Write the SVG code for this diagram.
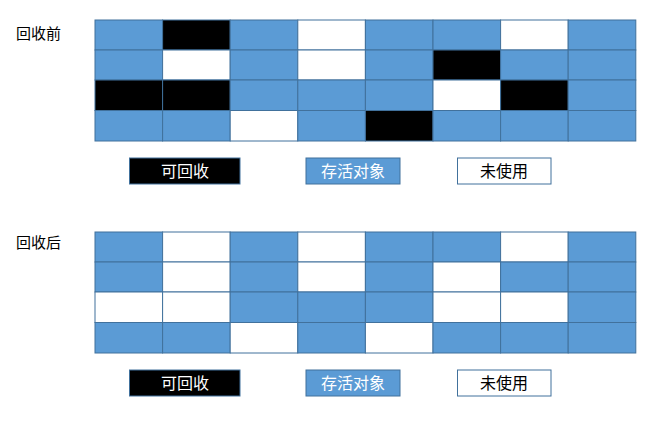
<svg xmlns="http://www.w3.org/2000/svg" width="666" height="434" viewBox="0 0 666 434">
<style>
rect{stroke:#41719C;stroke-width:1}
.b{fill:#5B9BD5}
.k{fill:#000000}
.w{fill:#FFFFFF}
text{font-family:"Noto Sans CJK SC","Microsoft YaHei",sans-serif}
.lbl{font-size:15px;fill:#000}
.lg{font-size:16px;text-anchor:middle}
</style>
<rect x="0" y="0" width="666" height="434" fill="#fff" style="stroke:none"/>
<g id="label-before"><text class="lbl" x="16" y="39">回收前</text></g>
<g id="grid-before">
<rect class="b" x="95" y="20" width="67.6" height="30"/>
<rect class="k" x="162.6" y="20" width="67.6" height="30"/>
<rect class="b" x="230.2" y="20" width="67.6" height="30"/>
<rect class="w" x="297.8" y="20" width="67.6" height="30"/>
<rect class="b" x="365.4" y="20" width="67.6" height="30"/>
<rect class="b" x="433" y="20" width="67.6" height="30"/>
<rect class="w" x="500.6" y="20" width="67.6" height="30"/>
<rect class="b" x="568.2" y="20" width="67.6" height="30"/>

<rect class="b" x="95" y="50" width="67.6" height="30"/>
<rect class="w" x="162.6" y="50" width="67.6" height="30"/>
<rect class="b" x="230.2" y="50" width="67.6" height="30"/>
<rect class="w" x="297.8" y="50" width="67.6" height="30"/>
<rect class="b" x="365.4" y="50" width="67.6" height="30"/>
<rect class="k" x="433" y="50" width="67.6" height="30"/>
<rect class="b" x="500.6" y="50" width="67.6" height="30"/>
<rect class="b" x="568.2" y="50" width="67.6" height="30"/>

<rect class="k" x="95" y="80" width="67.6" height="30.5"/>
<rect class="k" x="162.6" y="80" width="67.6" height="30.5"/>
<rect class="b" x="230.2" y="80" width="67.6" height="30.5"/>
<rect class="b" x="297.8" y="80" width="67.6" height="30.5"/>
<rect class="b" x="365.4" y="80" width="67.6" height="30.5"/>
<rect class="w" x="433" y="80" width="67.6" height="30.5"/>
<rect class="k" x="500.6" y="80" width="67.6" height="30.5"/>
<rect class="b" x="568.2" y="80" width="67.6" height="30.5"/>

<rect class="b" x="95" y="110.5" width="67.6" height="30.5"/>
<rect class="b" x="162.6" y="110.5" width="67.6" height="30.5"/>
<rect class="w" x="230.2" y="110.5" width="67.6" height="30.5"/>
<rect class="b" x="297.8" y="110.5" width="67.6" height="30.5"/>
<rect class="k" x="365.4" y="110.5" width="67.6" height="30.5"/>
<rect class="b" x="433" y="110.5" width="67.6" height="30.5"/>
<rect class="b" x="500.6" y="110.5" width="67.6" height="30.5"/>
<rect class="b" x="568.2" y="110.5" width="67.6" height="30.5"/>
</g>
<g id="legend-before">
<g id="lg1-reclaim"><rect class="k" x="129.5" y="158" width="110.5" height="26"/><text class="lg" x="185" y="177" fill="#fff">可回收</text></g>
<g id="lg1-alive"><rect class="b" x="306" y="158" width="94" height="26"/><text class="lg" x="353" y="177" fill="#fff">存活对象</text></g>
<g id="lg1-unused"><rect class="w" x="457.5" y="158" width="93.5" height="26"/><text class="lg" x="504" y="177" fill="#000">未使用</text></g>
</g>

<g id="label-after"><text class="lbl" x="16" y="248">回收后</text></g>
<g id="grid-after">
<rect class="b" x="95" y="232" width="67.6" height="30"/>
<rect class="w" x="162.6" y="232" width="67.6" height="30"/>
<rect class="b" x="230.2" y="232" width="67.6" height="30"/>
<rect class="w" x="297.8" y="232" width="67.6" height="30"/>
<rect class="b" x="365.4" y="232" width="67.6" height="30"/>
<rect class="b" x="433" y="232" width="67.6" height="30"/>
<rect class="w" x="500.6" y="232" width="67.6" height="30"/>
<rect class="b" x="568.2" y="232" width="67.6" height="30"/>

<rect class="b" x="95" y="262" width="67.6" height="30"/>
<rect class="w" x="162.6" y="262" width="67.6" height="30"/>
<rect class="b" x="230.2" y="262" width="67.6" height="30"/>
<rect class="w" x="297.8" y="262" width="67.6" height="30"/>
<rect class="b" x="365.4" y="262" width="67.6" height="30"/>
<rect class="w" x="433" y="262" width="67.6" height="30"/>
<rect class="b" x="500.6" y="262" width="67.6" height="30"/>
<rect class="b" x="568.2" y="262" width="67.6" height="30"/>

<rect class="w" x="95" y="292" width="67.6" height="30.5"/>
<rect class="w" x="162.6" y="292" width="67.6" height="30.5"/>
<rect class="b" x="230.2" y="292" width="67.6" height="30.5"/>
<rect class="b" x="297.8" y="292" width="67.6" height="30.5"/>
<rect class="b" x="365.4" y="292" width="67.6" height="30.5"/>
<rect class="w" x="433" y="292" width="67.6" height="30.5"/>
<rect class="w" x="500.6" y="292" width="67.6" height="30.5"/>
<rect class="b" x="568.2" y="292" width="67.6" height="30.5"/>

<rect class="b" x="95" y="322.5" width="67.6" height="30.5"/>
<rect class="b" x="162.6" y="322.5" width="67.6" height="30.5"/>
<rect class="w" x="230.2" y="322.5" width="67.6" height="30.5"/>
<rect class="b" x="297.8" y="322.5" width="67.6" height="30.5"/>
<rect class="w" x="365.4" y="322.5" width="67.6" height="30.5"/>
<rect class="b" x="433" y="322.5" width="67.6" height="30.5"/>
<rect class="b" x="500.6" y="322.5" width="67.6" height="30.5"/>
<rect class="b" x="568.2" y="322.5" width="67.6" height="30.5"/>
</g>
<g id="legend-after">
<g id="lg2-reclaim"><rect class="k" x="129.5" y="370" width="110.5" height="26"/><text class="lg" x="185" y="389" fill="#fff">可回收</text></g>
<g id="lg2-alive"><rect class="b" x="306" y="370" width="94" height="26"/><text class="lg" x="353" y="389" fill="#fff">存活对象</text></g>
<g id="lg2-unused"><rect class="w" x="457.5" y="370" width="93.5" height="26"/><text class="lg" x="504" y="389" fill="#000">未使用</text></g>
</g>
<g id="connectors"/>
</svg>
